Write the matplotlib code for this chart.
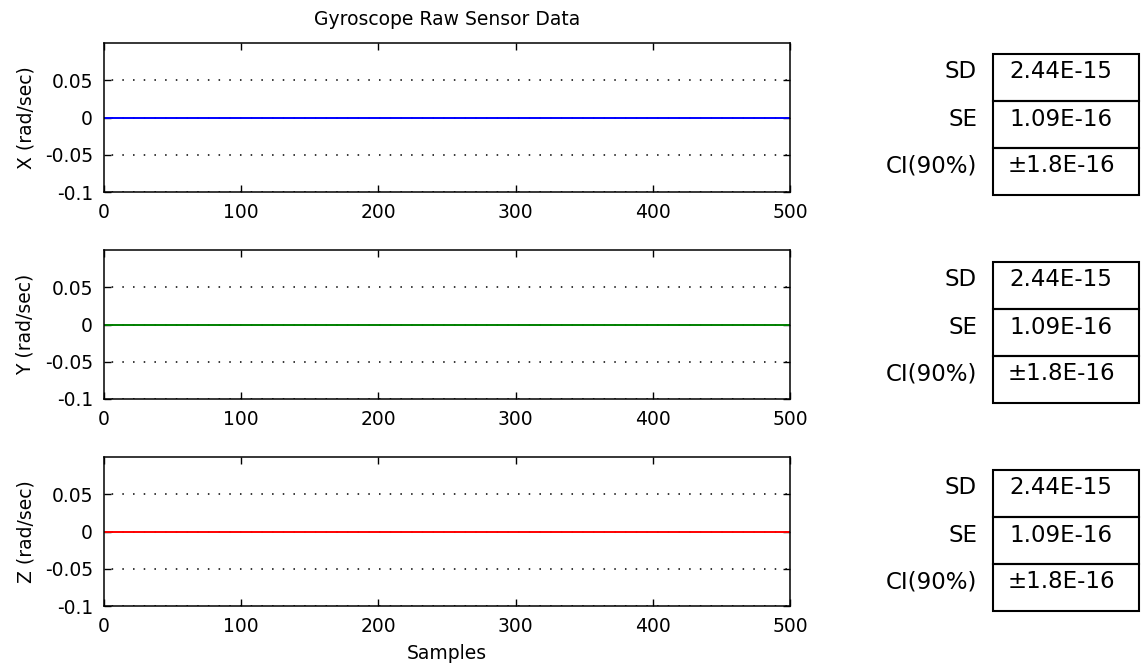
import numpy as np
import matplotlib
matplotlib.use("Agg")
import matplotlib.pyplot as plt
from matplotlib.patches import Rectangle

plt.rcParams['font.family'] = ['DejaVu Sans']

# gyro axes, constant zero output over 500 samples
samples = [0, 500]
gyro_x = [0.0, 0.0]
gyro_y = [0.0, 0.0]
gyro_z = [0.0, 0.0]

axis_names = ['X', 'Y', 'Z']
line_colors = ['#0000ff', '#008000', '#ff0000']
stat_names = ['SD', 'SE', 'CI(90%)']
stat_x = ['2.44E-15', '1.09E-16', '\u00b11.8E-16']
stat_y = ['2.44E-15', '1.09E-16', '\u00b11.8E-16']
stat_z = ['2.44E-15', '1.09E-16', '\u00b11.8E-16']

x_ticks = [0, 100, 200, 300, 400, 500]
y_ticks = [-0.1, -0.05, 0, 0.05]
y_ticklabels = ['-0.1', '-0.05', '0', '0.05']

W, H = 1142, 670
fig = plt.figure(figsize=(W / 100, H / 100), dpi=100)

ax_tops = [43, 250, 457]
ax_h = 149
tab_tops = [54, 262, 470]
row_h = 47
fs = 13.5

series = [gyro_x, gyro_y, gyro_z]
stats = [stat_x, stat_y, stat_z]

for i in range(3):
    top = ax_tops[i]
    ax = fig.add_axes([104 / W, 1 - (top + ax_h) / H, 686 / W, ax_h / H])
    ax.plot(samples, series[i], color=line_colors[i], lw=1.4)
    ax.set_xlim(0, 500)
    ax.set_ylim(-0.1, 0.1)
    ax.set_xticks(x_ticks)
    ax.set_yticks(y_ticks)
    ax.set_yticklabels(y_ticklabels)
    ax.yaxis.grid(True, color='black', linestyle=(2, (1, 6)), lw=1.1)
    ax.tick_params(direction='in', top=True, right=True, length=5, width=1.0,
                   labelsize=fs, colors='black')
    ax.tick_params(axis='x', pad=8)
    ax.tick_params(axis='y', pad=8)
    for s in ax.spines.values():
        s.set_linewidth(1.1)
    ax.set_ylabel('%s (rad/sec)' % axis_names[i], fontsize=fs, labelpad=7)
    if i == 0:
        ax.set_title('Gyroscope Raw Sensor Data', fontsize=fs, pad=13)
    if i == 2:
        ax.set_xlabel('Samples', fontsize=fs, labelpad=6)

    # stats box to the right of each plot
    tt = tab_tops[i]
    for r in range(3):
        y0 = tt + r * row_h
        fig.patches.append(Rectangle((993 / W, 1 - (y0 + row_h) / H), 146 / W, row_h / H,
                                     transform=fig.transFigure, fill=False,
                                     edgecolor='black', lw=1.5))
        ty = 1 - (y0 + 18) / H
        fig.text(977 / W, ty, stat_names[r], ha='right', va='center', fontsize=16.5)
        fig.text(1061 / W, ty, stats[i][r], ha='center', va='center', fontsize=16.5)

fig.savefig('out.png', dpi=100)
